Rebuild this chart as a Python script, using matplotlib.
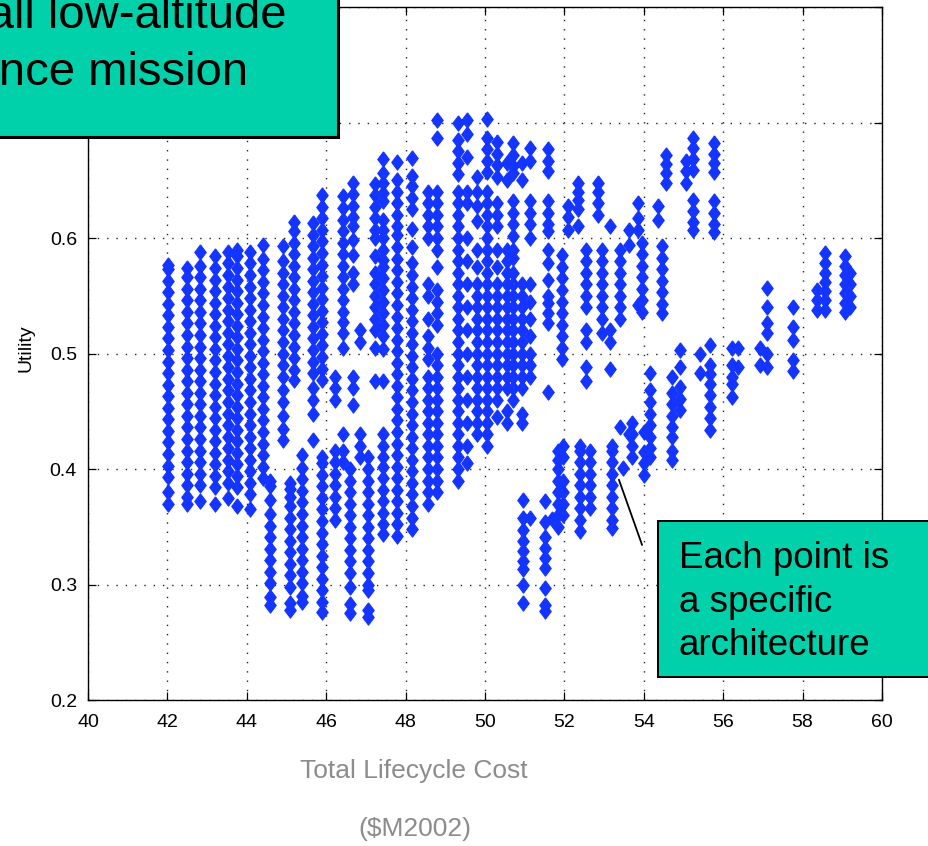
import numpy as np
import matplotlib
matplotlib.use('Agg')
import matplotlib.pyplot as plt
from matplotlib.patches import Rectangle
from matplotlib.ticker import FixedFormatter

# Utility values are kept in thousandths, one list per cost column ($M2002)
left_cost = [42.02, 42.49, 42.82, 43.20, 43.53, 43.75, 44.08, 44.41, 44.91, 45.19, 45.67]
left_util = [
    [370, 380, 393, 403, 413, 423, 433, 443, 453, 463, 473, 483, 493, 503, 513, 523, 533, 543, 553, 563, 573, 577],
    [370, 376, 386, 396, 406, 416, 426, 436, 446, 456, 466, 476, 486, 496, 506, 516, 526, 536, 546, 556, 566, 574],
    [372, 386, 396, 406, 416, 426, 436, 446, 456, 466, 476, 486, 496, 506, 516, 526, 536, 546, 556, 566, 576, 588],
    [370, 384, 394, 404, 414, 424, 434, 444, 454, 464, 474, 484, 494, 504, 514, 524, 534, 544, 554, 564, 574, 584],
    [375, 388, 398, 408, 418, 428, 438, 448, 458, 468, 478, 488, 498, 508, 518, 528, 538, 548, 558, 568, 578, 588],
    [368, 384, 394, 404, 414, 424, 434, 444, 454, 464, 474, 484, 494, 504, 514, 524, 534, 544, 554, 564, 574, 584, 590],
    [365, 378, 388, 398, 408, 418, 428, 438, 448, 458, 468, 478, 488, 498, 508, 518, 528, 538, 548, 558, 568, 578, 588],
    [392, 402, 412, 422, 432, 442, 452, 462, 472, 482, 492, 502, 512, 522, 532, 542, 552, 562, 572, 582, 594],
    [425, 435, 446, 458, 468, 480, 490, 500, 510, 520, 530, 540, 550, 560, 570, 580, 593],
    [477, 486, 496, 506, 516, 526, 536, 546, 556, 566, 576, 586, 596, 606, 614],
    [425, 448, 460, 470, 483, 493, 503, 513, 523, 533, 543, 553, 563, 573, 583, 593, 603, 613],
]

low_cost = [44.58, 45.09, 45.39, 45.89, 46.22, 46.42, 46.60, 46.68, 46.85, 47.05, 47.23, 47.43]
low_util = [
    [282, 289, 301, 311, 321, 331, 341, 351, 361, 373, 385, 390],
    [278, 284, 298, 308, 318, 328, 338, 348, 358, 368, 376, 383, 388],
    [285, 290, 301, 311, 321, 331, 341, 351, 361, 371, 381, 391, 401, 412],
    [276, 285, 295, 305, 315, 325, 335, 345, 355, 365, 375, 385, 395, 405, 410, 477, 487, 497,
     507, 517, 527, 537, 547, 557, 567, 577, 587, 597, 607, 617, 627, 637],
    [356, 366, 376, 386, 396, 406, 416, 460, 470, 480],
    [406, 416, 430, 505, 518, 527, 536, 546, 556, 566, 576, 586, 596, 606, 616, 626, 636],
    [275, 283, 298, 310, 320, 330, 340, 350, 360, 370, 380, 390, 400],
    [455, 470, 480, 560, 570, 585, 598, 610, 618, 628, 638, 648],
    [410, 420, 430, 510, 520],
    [272, 278, 295, 300, 310, 320, 330, 340, 350, 360, 370, 380, 390, 400, 410],
    [476, 505, 520, 530, 540, 550, 560, 570, 584, 600, 607, 617, 627, 637, 647],
    [344, 352, 362, 372, 382, 392, 402, 410, 420, 430, 476, 504, 515, 525, 535, 545, 555, 565,
     575, 581, 590, 600, 607, 616, 632, 639, 648, 656, 668],
]

mid_cost = [47.78, 48.16, 48.56, 48.79, 49.32, 49.55, 49.80, 50.05, 50.30, 50.55, 50.71,
            50.93, 51.13, 51.59, 51.94, 52.09, 52.34, 52.55, 52.85, 52.95, 53.15, 53.40,
            53.63, 53.85, 53.95, 54.36, 54.46, 54.56, 55.06, 55.24, 55.77]
mid_util = [
    [342, 352, 362, 372, 382, 392, 402, 412, 422, 432, 442, 452, 462, 472, 482, 492, 502, 512,
     522, 532, 542, 552, 562, 572, 582, 592, 603, 610, 620, 630, 640, 650, 666],
    [348, 358, 368, 378, 388, 398, 408, 418, 428, 438, 448, 458, 468, 478, 488, 498, 508, 518,
     528, 538, 548, 558, 568, 578, 592, 608, 625, 635, 645, 654, 669],
    [370, 380, 390, 400, 410, 420, 430, 440, 450, 460, 470, 480, 495, 505, 515, 530, 550, 560,
     600, 610, 620, 630, 640],
    [380, 390, 400, 410, 420, 430, 440, 450, 460, 470, 480, 490, 500, 525, 535, 545, 555, 575,
     590, 600, 610, 620, 630, 640, 687, 702],
    [390, 400, 410, 420, 430, 440, 450, 460, 470, 480, 490, 500, 510, 520, 530, 540, 550, 560,
     570, 580, 590, 600, 610, 620, 630, 640, 655, 665, 675, 685, 700],
    [405, 420, 440, 460, 480, 500, 520, 540, 560, 580, 600, 630, 640, 670, 690, 702],
    [430, 440, 450, 460, 470, 480, 490, 500, 510, 520, 530, 540, 550, 560, 575, 590, 615, 628, 640, 653],
    [420, 430, 440, 450, 460, 470, 480, 490, 500, 510, 520, 530, 540, 550, 560, 570, 580, 590,
     600, 610, 620, 630, 640, 657, 667, 677, 687, 703],
    [445, 460, 470, 480, 490, 500, 510, 520, 530, 540, 550, 560, 575, 590, 610, 620, 630, 653, 663, 673, 683],
    [440, 450, 470, 480, 490, 500, 510, 520, 530, 540, 550, 560, 570, 580, 590, 650, 665],
    [460, 470, 480, 490, 500, 510, 520, 530, 540, 550, 560, 570, 583, 590, 602, 612, 622, 632, 656, 662, 672, 682],
    [440, 448, 470, 480, 490, 500, 510, 520, 530, 540, 550, 560, 650, 665],
    [480, 490, 500, 515, 530, 545, 560, 600, 612, 622, 632, 667, 678],
    [467, 526, 535, 544, 550, 564, 578, 590, 606, 612, 622, 632, 658, 667, 677],
    [495, 505, 515, 525, 535, 545, 555, 565, 575, 585],
    [607, 618, 628],
    [610, 625, 633, 640, 648],
    [476, 488, 510, 520, 540, 550, 560, 570, 580, 590],
    [620, 630, 640, 648],
    [518, 530, 540, 550, 560, 570, 580, 590],
    [487, 510, 520, 610],
    [436, 530, 540, 550, 560, 570, 580, 590],
    [430, 594, 607],
    [542, 607, 617, 630],
    [536, 546, 556, 566, 576, 586, 596],
    [616, 628],
    [535, 543, 553, 563, 573, 583, 593],
    [648, 656, 664, 672],
    [648, 658, 667],
    [607, 614, 623, 633, 659, 668, 678, 687],
    [605, 612, 622, 632, 657, 665, 673, 682],
]

right_cost = [50.96, 51.13, 51.50, 51.70, 51.84, 51.96, 52.40, 52.65, 53.20, 53.48, 53.70,
              54.00, 54.16, 54.71, 54.91, 55.42, 55.67, 56.22, 56.37, 56.93, 57.10, 57.76,
              58.36, 58.56, 59.07, 59.19]
right_util = [
    [284, 300, 313, 320, 329, 338, 347, 358, 373],
    [358],
    [277, 282, 297, 314, 323, 332, 341, 354, 372],
    [357],
    [350, 360, 370, 380, 390, 400, 408, 416],
    [360, 370, 380, 390, 410, 420],
    [346, 356, 366, 376, 386, 396, 406, 416, 420],
    [366, 376, 386, 396, 406, 416],
    [349, 356, 366, 376, 386, 396, 406, 416, 420],
    [401],
    [410, 420, 430, 440],
    [395, 405, 415, 432],
    [410, 418, 428, 438, 448, 458, 468, 483],
    [408, 416, 428, 436, 446, 456, 466, 480],
    [451, 461, 471, 488, 503],
    [483, 500],
    [434, 444, 454, 464, 474, 482, 490, 507],
    [462, 474, 480, 490, 505],
    [488, 505],
    [490, 505],
    [488, 500, 518, 526, 540, 557],
    [485, 494, 512, 523, 540],
    [538, 546, 555],
    [538, 546, 554, 562, 570, 578, 587],
    [536, 544, 552, 560, 568, 576, 584],
    [540, 550, 560, 570],
]

x_ticks = [40, 42, 44, 46, 48, 50, 52, 54, 56, 58, 60]
y_ticks = [0.2, 0.3, 0.4, 0.5, 0.6, 0.7, 0.8]
# the two top labels sit under the title box
y_tick_labels = ['0.2', '0.3', '0.4', '0.5', '0.6', '', '']
title_lines = ["Small low-altitude", "surveillance mission"]
note_lines = ["Each point is", "a specific", "architecture"]

cost = []
util = []
for xs, ys in [(left_cost, left_util), (low_cost, low_util),
               (mid_cost, mid_util), (right_cost, right_util)]:
    for x, col in zip(xs, ys):
        cost.extend([x] * len(col))
        util.extend(col)
cost = np.array(cost)
util = np.array(util) / 1000.0

W, H = 929, 846
fig = plt.figure(figsize=(W / 100, H / 100), dpi=100)
ax = fig.add_axes([88 / W, 1 - 700 / H, 794 / W, 693 / H])

# slightly tall diamond, so stacked points merge into columns
diamond = [(0, 1), (0.75, 0), (0, -1), (-0.75, 0), (0, 1)]
ax.plot(cost, util, linestyle='none', marker=diamond, color='#1434ff',
        markersize=11, markeredgewidth=0.8, markeredgecolor='#1434ff', zorder=3)

ax.set_xlim(40, 60)
ax.set_ylim(0.2, 0.8)
ax.set_xticks(x_ticks)
ax.set_yticks(y_ticks)
ax.yaxis.set_major_formatter(FixedFormatter(y_tick_labels))
ax.grid(True, linestyle=(0, (1, 5.7)), color='#222222', linewidth=1.0)
ax.set_axisbelow(True)
ax.tick_params(direction='in', top=True, right=True, length=6, width=0.9,
               labelsize=14, pad=8)
ax.tick_params(axis='x', pad=10)
for lab in ax.get_xticklabels() + ax.get_yticklabels():
    lab.set_family(['Liberation Sans Narrow', 'Liberation Sans'])
for sp in ax.spines.values():
    sp.set_linewidth(1.0)

ax.set_ylabel('Utility', fontsize=14, family=['Liberation Sans Narrow', 'Liberation Sans'])
ax.yaxis.set_label_coords(-53 / 794, 0.508)

# line from the callout box to one of the points
ax.annotate('', xy=(53.35, 0.393), xytext=(53.98, 0.332),
            arrowprops=dict(arrowstyle='-', color='black', lw=1.3), zorder=5)

fig.text(414 / W, 1 - 771 / H, 'Total Lifecycle Cost', ha='center', va='center',
         fontsize=19, color='#8c8c8c', family='Liberation Sans')
fig.text(415 / W, 1 - 829 / H, '($M2002)', ha='center', va='center',
         fontsize=19, color='#8c8c8c', family='Liberation Sans')

teal = '#00d1ab'
fig.add_artist(Rectangle((-10 / W, 1 - 137 / H), 348 / W, 150 / H, transform=fig.transFigure,
                         facecolor=teal, edgecolor='black', linewidth=2.2))
fig.text(287 / W, 1 - 28 / H, title_lines[0], ha='right', va='baseline',
         fontsize=34, family='Liberation Sans')
fig.text(248 / W, 1 - 85 / H, title_lines[1], ha='right', va='baseline',
         fontsize=34, family='Liberation Sans')

fig.add_artist(Rectangle((658 / W, 1 - 677 / H), 290 / W, 156 / H, transform=fig.transFigure,
                         facecolor=teal, edgecolor='black', linewidth=1.4))
for i, line in enumerate(note_lines):
    fig.text(679 / W, 1 - (568 + 43.5 * i) / H, line, ha='left', va='baseline',
             fontsize=26.5, family='Liberation Sans')

fig.savefig('out.png', dpi=100)
